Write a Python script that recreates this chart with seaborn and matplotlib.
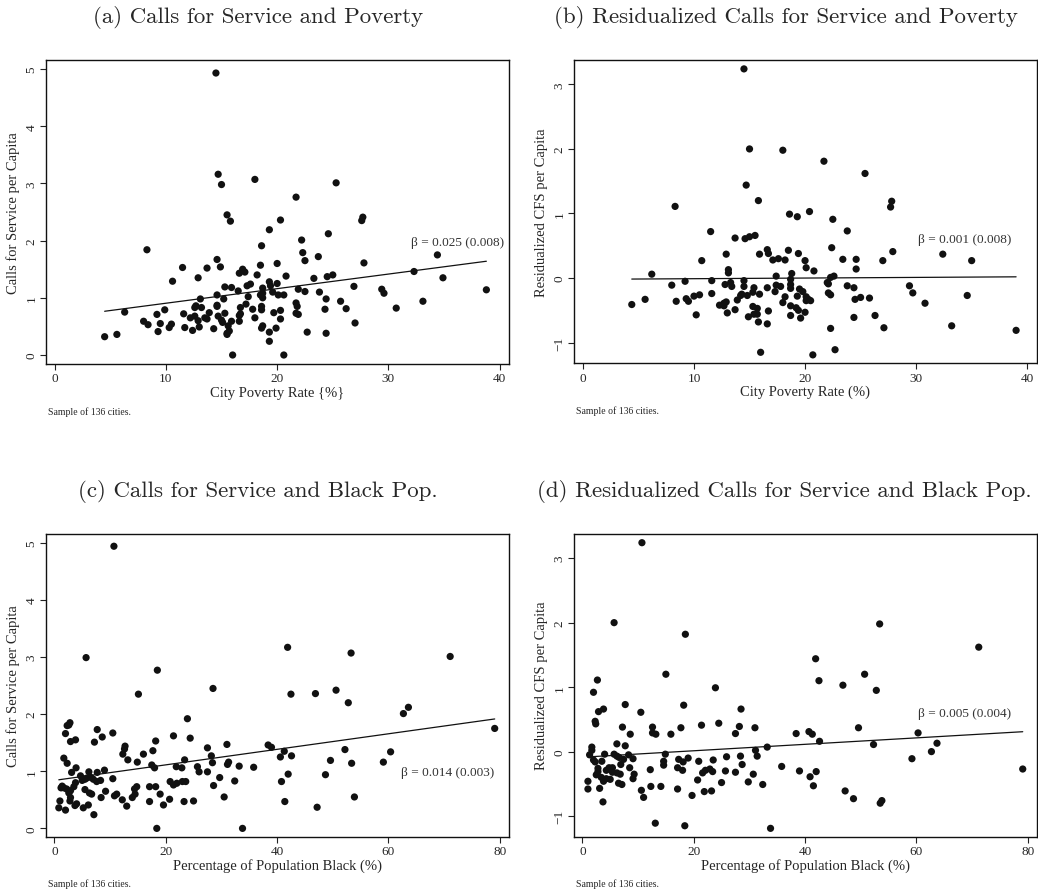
import numpy as np
import matplotlib
matplotlib.use("Agg")
import matplotlib.pyplot as plt
import seaborn as sns

# ---------------------------------------------------------------------------
# data
# ---------------------------------------------------------------------------
# (a) calls for service vs poverty
pov_a = [14.5, 14.7, 15.0, 18.0, 25.3, 21.7, 15.5, 15.8, 20.3, 27.7, 27.6, 19.3, 24.6, 22.2, 18.6,
         8.3, 22.3, 34.4, 23.7, 14.6, 22.5, 27.8, 20.0, 18.5, 11.5, 14.9, 13.7, 16.9, 17.1, 16.6,
         18.2, 25.0, 24.5, 20.8, 32.3, 34.9, 12.9, 23.3, 10.6, 19.3, 19.4, 20.0, 17.6, 17.3, 15.3,
         15.9, 18.7, 26.9, 21.9, 29.4, 29.6, 38.8, 16.5, 23.8, 22.5, 19.6, 18.7, 18.5, 20.1, 20.6,
         14.6, 17.4, 15.2, 13.1, 24.4, 18.7, 25.7, 33.1, 14.6, 14.6, 12.7, 13.2, 12.6, 17.2, 21.7,
         21.8, 16.7, 30.7, 26.2, 24.3, 18.6, 18.6, 17.8, 20.3, 9.9, 6.3, 19.7, 11.6, 13.9, 15.3,
         9.2, 21.7, 21.9, 16.6, 16.7, 12.6, 14.7, 13.5, 13.7, 12.2, 18.0, 15.0, 20.3, 12.9, 8.0,
         15.9, 16.6, 15.1, 27.0, 9.5, 10.5, 10.3, 8.4, 15.6, 13.0, 18.7, 18.6, 11.7, 14.3, 19.9,
         15.7, 12.4, 9.3, 19.3, 22.7, 15.5, 15.5, 24.4, 5.6, 4.5, 19.3, 16.0, 20.6]
cfs_a = [4.93, 3.16, 2.98, 3.07, 3.01, 2.76, 2.45, 2.34, 2.36, 2.41, 2.35, 2.19, 2.12, 2.01, 1.91,
         1.84, 1.79, 1.75, 1.72, 1.67, 1.65, 1.61, 1.60, 1.57, 1.53, 1.54, 1.52, 1.50, 1.45, 1.43,
         1.40, 1.40, 1.37, 1.38, 1.46, 1.35, 1.35, 1.34, 1.29, 1.28, 1.21, 1.25, 1.24, 1.21, 1.19,
         1.18, 1.17, 1.20, 1.15, 1.15, 1.08, 1.14, 1.12, 1.10, 1.11, 1.10, 1.08, 1.05, 1.05, 1.05,
         1.05, 1.02, 0.98, 0.98, 0.98, 1.00, 0.94, 0.94, 0.87, 0.85, 0.86, 0.83, 0.83, 0.89, 0.91,
         0.85, 0.83, 0.82, 0.81, 0.80, 0.85, 0.79, 0.80, 0.78, 0.79, 0.75, 0.74, 0.72, 0.74, 0.73,
         0.71, 0.73, 0.71, 0.69, 0.72, 0.68, 0.68, 0.65, 0.63, 0.65, 0.65, 0.61, 0.63, 0.60, 0.59,
         0.59, 0.59, 0.57, 0.56, 0.55, 0.54, 0.48, 0.53, 0.51, 0.49, 0.51, 0.47, 0.48, 0.46, 0.47,
         0.42, 0.43, 0.41, 0.40, 0.40, 0.38, 0.36, 0.38, 0.36, 0.32, 0.24, 0.00, 0.00]

# (b) residualized calls for service vs poverty
pov_b = [14.5, 15.0, 18.0, 21.7, 25.4, 14.7, 15.8, 27.8, 27.7, 8.3, 20.4, 18.6, 19.3, 22.5, 23.8,
         11.5, 15.5, 15.0, 14.6, 13.7, 22.4, 16.6, 16.7, 18.5, 27.9, 19.4, 12.9, 15.9, 32.4, 17.6,
         17.1, 18.2, 23.4, 24.6, 27.0, 35.0, 20.0, 10.7, 20.1, 24.6, 13.1, 13.1, 20.8, 18.8, 6.2,
         17.4, 22.6, 22.3, 18.7, 14.5, 11.6, 9.2, 13.3, 22.0, 22.1, 18.7, 12.8, 8.0, 17.4, 17.8,
         14.5, 13.4, 15.4, 23.8, 24.4, 29.4, 16.6, 18.7, 19.5, 19.8, 17.3, 15.3, 29.7, 22.1, 22.3,
         11.6, 10.5, 14.3, 14.8, 14.2, 15.9, 34.6, 19.3, 20.1, 20.3, 20.5, 20.1, 18.2, 25.0, 24.5,
         25.8, 5.6, 9.3, 9.5, 10.0, 13.9, 8.4, 18.0, 30.8, 12.7, 12.3, 12.9, 12.7, 4.4, 15.3,
         15.7, 18.7, 19.2, 19.4, 13.7, 13.0, 16.7, 20.0, 15.4, 15.7, 14.9, 10.2, 18.7, 26.3, 19.6,
         24.4, 15.8, 16.6, 33.2, 22.3, 27.1, 39.0, 16.0, 22.7, 20.7]
res_b = [3.24, 2.00, 1.98, 1.81, 1.62, 1.44, 1.20, 1.19, 1.10, 1.11, 1.03, 0.99, 0.95, 0.91, 0.73,
         0.72, 0.66, 0.64, 0.61, 0.62, 0.47, 0.44, 0.38, 0.43, 0.41, 0.38, 0.37, 0.37, 0.37, 0.30,
         0.28, 0.28, 0.29, 0.29, 0.27, 0.27, 0.27, 0.27, 0.16, 0.14, 0.13, 0.08, 0.11, 0.07, 0.06,
         0.03, 0.03, 0.01, -0.02, -0.04, -0.04, -0.05, -0.07, -0.07, -0.09, -0.10, -0.10, -0.11, -0.11, -0.13,
         -0.13, -0.13, -0.15, -0.12, -0.15, -0.12, -0.15, -0.16, -0.17, -0.21, -0.21, -0.22, -0.23, -0.23, -0.26,
         -0.24, -0.26, -0.25, -0.27, -0.27, -0.25, -0.27, -0.28, -0.29, -0.33, -0.35, -0.35, -0.29, -0.30, -0.33,
         -0.31, -0.33, -0.32, -0.36, -0.28, -0.34, -0.36, -0.38, -0.39, -0.39, -0.42, -0.37, -0.43, -0.41, -0.44,
         -0.47, -0.43, -0.46, -0.50, -0.49, -0.54, -0.51, -0.53, -0.56, -0.56, -0.60, -0.57, -0.58, -0.58, -0.62,
         -0.61, -0.68, -0.71, -0.74, -0.78, -0.77, -0.81, -1.15, -1.11, -1.19]

# (c) calls for service vs black population share
blk_c = [10.7, 41.9, 53.3, 71.1, 5.7, 18.5, 28.5, 15.1, 42.5, 46.9, 50.6, 52.8, 63.6, 62.7, 23.9,
         2.8, 2.6, 2.3, 2.0, 7.7, 10.5, 8.6, 79.1, 21.4, 24.4, 3.8, 2.9, 7.2, 18.2, 31.0,
         27.5, 38.4, 39.0, 12.7, 12.6, 17.7, 41.3, 52.2, 60.4, 12.3, 16.0, 28.2, 40.6, 42.6, 1.7,
         13.2, 23.4, 49.6, 2.3, 14.9, 31.3, 31.1, 28.4, 59.1, 53.4, 17.5, 18.0, 21.9, 22.9, 25.7,
         26.0, 3.9, 33.2, 35.8, 9.0, 3.1, 6.2, 7.7, 27.5, 4.7, 5.0, 5.5, 5.8, 6.6, 7.0,
         7.6, 8.3, 10.5, 3.8, 3.5, 42.0, 48.7, 20.8, 21.4, 22.0, 23.0, 23.6, 32.4, 40.8, 29.7,
         28.6, 1.4, 1.7, 1.2, 14.8, 14.4, 17.1, 18.2, 2.2, 2.9, 2.6, 5.5, 6.3, 9.2, 6.7,
         19.0, 11.2, 10.8, 14.5, 2.9, 2.8, 8.4, 30.5, 53.9, 12.2, 14.0, 20.7, 17.1, 23.3, 25.0,
         41.4, 1.0, 4.0, 3.7, 6.1, 19.6, 13.0, 0.8, 5.2, 47.2, 2.0, 7.1, 18.4, 33.8]
cfs_c = [4.94, 3.17, 3.07, 3.01, 2.99, 2.77, 2.45, 2.35, 2.35, 2.36, 2.42, 2.20, 2.12, 2.01, 1.92,
         1.85, 1.81, 1.80, 1.66, 1.73, 1.67, 1.60, 1.75, 1.62, 1.58, 1.55, 1.52, 1.51, 1.53, 1.47,
         1.41, 1.46, 1.42, 1.44, 1.39, 1.36, 1.35, 1.38, 1.34, 1.30, 1.30, 1.27, 1.25, 1.27, 1.23,
         1.20, 1.20, 1.19, 1.14, 1.16, 1.16, 1.12, 1.15, 1.16, 1.14, 1.11, 1.06, 1.08, 1.06, 1.08,
         0.99, 1.06, 1.09, 1.07, 1.02, 0.98, 0.99, 0.98, 0.99, 0.92, 0.84, 0.86, 0.88, 0.89, 0.86,
         0.82, 0.84, 0.87, 0.80, 0.73, 0.95, 0.94, 0.82, 0.76, 0.79, 0.82, 0.82, 0.83, 0.82, 0.89,
         0.75, 0.74, 0.71, 0.71, 0.73, 0.69, 0.73, 0.73, 0.69, 0.66, 0.62, 0.68, 0.62, 0.65, 0.60,
         0.60, 0.60, 0.57, 0.60, 0.54, 0.48, 0.54, 0.55, 0.55, 0.50, 0.54, 0.51, 0.47, 0.47, 0.48,
         0.47, 0.48, 0.43, 0.40, 0.41, 0.41, 0.39, 0.36, 0.36, 0.37, 0.32, 0.24, 0.00, 0.00]

# (d) residualized calls for service vs black population share
blk_d = [10.7, 5.7, 53.4, 18.5, 71.2, 41.9, 15.0, 50.7, 42.5, 2.7, 46.8, 23.9, 52.8, 2.0, 7.7,
         18.2, 28.5, 3.8, 2.9, 10.5, 2.3, 2.4, 24.5, 21.4, 7.2, 12.6, 17.7, 28.2, 31.0, 49.6,
         60.3, 38.4, 40.7, 41.3, 8.6, 12.6, 13.2, 15.9, 27.5, 6.2, 42.6, 63.7, 52.3, 7.7, 33.2,
         1.7, 1.7, 31.1, 62.7, 5.7, 6.2, 6.6, 4.0, 1.3, 8.3, 14.9, 2.0, 2.3, 7.4, 9.1,
         19.0, 17.3, 18.1, 25.9, 28.4, 31.4, 23.5, 20.9, 59.2, 3.5, 14.6, 14.6, 6.9, 28.7, 5.4,
         4.8, 2.8, 4.3, 17.1, 8.5, 35.8, 79.1, 2.8, 18.0, 12.2, 22.1, 21.6, 23.4, 22.9, 25.7,
         27.5, 39.0, 42.0, 30.7, 5.4, 6.2, 6.8, 9.3, 2.5, 3.4, 4.3, 5.0, 40.9, 9.1, 3.8,
         1.0, 20.7, 6.5, 7.1, 25.0, 29.8, 32.4, 41.5, 12.3, 14.1, 17.1, 3.1, 1.0, 23.2, 21.9,
         10.6, 47.2, 11.0, 19.7, 48.7, 3.7, 53.8, 53.5, 13.1, 18.4, 33.8]
res_d = [3.24, 2.00, 1.98, 1.82, 1.62, 1.44, 1.20, 1.20, 1.10, 1.11, 1.03, 0.99, 0.95, 0.92, 0.73,
         0.72, 0.66, 0.66, 0.62, 0.61, 0.47, 0.43, 0.44, 0.41, 0.38, 0.38, 0.37, 0.39, 0.37, 0.37,
         0.29, 0.28, 0.31, 0.27, 0.27, 0.29, 0.27, 0.27, 0.28, 0.12, 0.16, 0.13, 0.11, 0.09, 0.07,
         0.07, 0.02, 0.02, 0.00, -0.04, -0.07, -0.09, -0.04, -0.05, -0.05, -0.04, -0.13, -0.16, -0.12, -0.11,
         -0.10, -0.12, -0.16, -0.08, -0.07, -0.07, -0.13, -0.15, -0.11, -0.15, -0.15, -0.21, -0.20, -0.20, -0.25,
         -0.25, -0.26, -0.29, -0.25, -0.25, -0.23, -0.27, -0.31, -0.29, -0.28, -0.29, -0.33, -0.31, -0.27, -0.30,
         -0.32, -0.30, -0.31, -0.35, -0.32, -0.33, -0.35, -0.35, -0.36, -0.40, -0.42, -0.43, -0.39, -0.42, -0.46,
         -0.46, -0.44, -0.49, -0.51, -0.48, -0.47, -0.51, -0.53, -0.54, -0.54, -0.58, -0.57, -0.58, -0.61, -0.62,
         -0.60, -0.61, -0.71, -0.68, -0.73, -0.78, -0.76, -0.80, -1.11, -1.15, -1.19]

# fitted lines (intercept, slope) and beta labels
fit_a = (0.65, 0.0255)
fit_b = (-0.02, 0.001)
fit_c = (0.84, 0.0136)
fit_d = (-0.087, 0.005)
beta_labels = ["β = 0.025 (0.008)", "β = 0.001 (0.008)",
               "β = 0.014 (0.003)", "β = 0.005 (0.004)"]

titles = ["(a) Calls for Service and Poverty",
          "(b) Residualized Calls for Service and Poverty",
          "(c) Calls for Service and Black Pop.",
          "(d) Residualized Calls for Service and Black Pop."]
xlabels = ["City Poverty Rate {%}", "City Poverty Rate (%)",
           "Percentage of Population Black (%)", "Percentage of Population Black (%)"]
ylabels = ["Calls for Service per Capita", "Residualized CFS per Capita",
           "Calls for Service per Capita", "Residualized CFS per Capita"]
note = "Sample of 136 cities."

# ---------------------------------------------------------------------------
# plotting
# ---------------------------------------------------------------------------
sns.set_style("ticks")
plt.rcParams["font.family"] = ["Liberation Serif", "DejaVu Serif"]

fig = plt.figure(figsize=(10.38, 8.95), dpi=100)

panels = [
    # x, y, fit, xlim, ylim, xticks, yticks, beta pos, axes rect, title pos
    (pov_a, cfs_a, fit_a, (-0.8, 40.8), (-0.16, 5.16), [0, 10, 20, 30, 40], [0, 1, 2, 3, 4, 5],
     (40.4, 1.97), [0.044, 0.592, 0.446, 0.340], (0.249, 0.980)),
    (pov_b, res_b, fit_b, (-0.8, 40.85), (-1.32, 3.38), [0, 10, 20, 30, 40], [-1, 0, 1, 2, 3],
     (38.6, 0.60), [0.553, 0.593, 0.4457, 0.339], (0.757, 0.980)),
    (blk_c, cfs_c, fit_c, (-1.56, 81.6), (-0.146, 5.16), [0, 20, 40, 60, 80], [0, 1, 2, 3, 4, 5],
     (79.1, 0.99), [0.044, 0.064, 0.446, 0.3386], (0.248, 0.4506)),
    (blk_d, res_d, fit_d, (-1.5, 81.6), (-1.32, 3.38), [0, 20, 40, 60, 80], [-1, 0, 1, 2, 3],
     (77.1, 0.60), [0.553, 0.064, 0.4457, 0.3386], (0.756, 0.4506)),
]

for i, (xs, ys, fit, xlim, ylim, xt, yt, bpos, rect, tpos) in enumerate(panels):
    ax = fig.add_axes(rect)
    sns.scatterplot(x=xs, y=ys, ax=ax, color="#111111", s=27, edgecolor="none", linewidth=0)

    # regression line over the observed range
    xx = np.array([min(xs), max(xs)])
    sns.lineplot(x=xx, y=fit[0] + fit[1] * xx, ax=ax, color="#111111", linewidth=0.9)

    ax.text(bpos[0], bpos[1], beta_labels[i], ha="right", va="center", fontsize=9.5, color="#333333")

    ax.set_xlim(*xlim)
    ax.set_ylim(*ylim)
    ax.set_xticks(xt)
    ax.set_yticks(yt)
    ax.tick_params(axis="both", labelsize=9.5, length=4, width=0.8, color="#222222", pad=2)
    for lab in ax.get_yticklabels():
        lab.set_rotation(90)
        lab.set_va("center")
    for sp in ax.spines.values():
        sp.set_visible(True)
        sp.set_linewidth(1.0)
        sp.set_color("#111111")

    ax.set_xlabel(xlabels[i], fontsize=10.5, labelpad=1)
    ax.set_ylabel(ylabels[i], fontsize=10.5, labelpad=4)

    # figure note under each panel
    fig.text(rect[0] + 0.002, rect[1] - 0.052, note, fontsize=7, ha="left", va="center")

    fig.text(tpos[0], tpos[1], titles[i], fontsize=16.5, ha="center", va="center",
             family="cmr10")

fig.savefig("out.png", dpi=100, facecolor="white")
